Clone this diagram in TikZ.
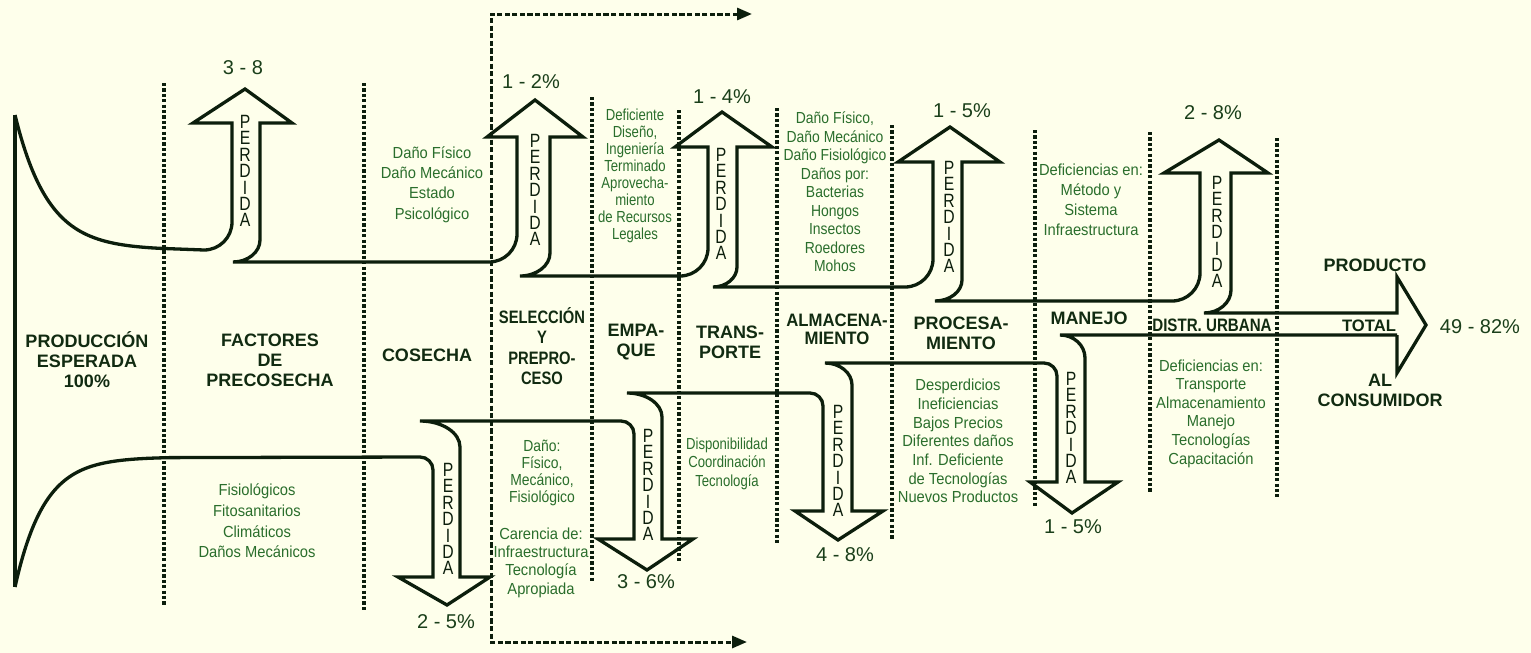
\documentclass[tikz,border=0pt]{standalone}
\usepackage{fontspec}
\setmainfont{Liberation Sans}
\newfontfamily\gfA[FakeStretch=0.92]{Liberation Sans}
\newfontfamily\gfB[FakeStretch=0.87]{Liberation Sans}
\newfontfamily\gfC[FakeStretch=0.82]{Liberation Sans}
\newfontfamily\hdC[FakeStretch=0.82]{Liberation Sans}
\newfontfamily\hdD[FakeStretch=0.93]{Liberation Sans}
\newfontfamily\hdE[FakeStretch=0.84]{Liberation Sans}
\newfontfamily\pfont[FakeStretch=0.82]{Liberation Sans}
\usetikzlibrary{arrows.meta}
\definecolor{bg}{HTML}{FEFFEB}
\definecolor{ink}{HTML}{0C1E0C}
\definecolor{hdcol}{HTML}{112B11}
\definecolor{grn}{HTML}{2A6E2C}
\definecolor{pctcol}{HTML}{1A3F1A}
\begin{document}
\begin{tikzpicture}[x=0.5pt,y=-0.5pt,
  flow/.style={draw=ink, line width=1.65pt, line join=miter},
  divider/.style={draw=ink, line width=1.6pt, dash pattern=on 1.6pt off 1.1pt},
  dashlink/.style={draw=ink, line width=1.5pt, dash pattern=on 2.6pt off 1.2pt},
  hdr/.style={text=hdcol, font=\fontsize{9}{10}\selectfont\bfseries, align=center, inner sep=0pt},
  note/.style={text=grn, align=center, inner sep=0pt},
  pct/.style={text=pctcol, font=\fontsize{10}{12}\selectfont, inner sep=0pt},
  perd/.style={text=ink, font=\pfont\fontsize{9.6}{8.2}\selectfont, align=center, inner sep=0pt}]
\fill[bg] (0,0) rectangle (1531,653);
\useasboundingbox (0,0) rectangle (1531,653);

% dividers
\foreach \xx/\ya/\yb in {164/83/605, 364/83/612, 592/97/581, 679/110/563, 777/108/544, 892/125/540, 1035/130/507, 1150/132/493, 1277/138/497}
  \draw[divider] (\xx,\ya) -- (\xx,\yb);

% dashed bracket
\coordinate (dA) at (752,14);
\coordinate (dB) at (491,14);
\coordinate (dC) at (491,642);
\coordinate (dD) at (747,642);
\draw[dashlink, {Triangle[length=7.5pt,width=6pt]}-{Triangle[length=7.5pt,width=6pt]}] (dA) -- (dB) -- (dC) -- (dD);

% left edge
\coordinate (lt) at (15,115);
\coordinate (lb) at (15,587);
\draw[flow] (lt) -- (lb);

% upper boundary with loss arrows
\draw[flow] plot[domain=15:160, samples=60, smooth] (\x,{250-135*exp(-(\x-15)/33)})
  -- (204,250) .. controls (219.5,250) and (232,237.5) .. (232,222)
  -- (232,123) -- (193,123) -- (245,89) -- (292,123) -- (260,123)
  -- (260,240) .. controls (260,252.1) and (247.9,262) .. (233,262)
  -- (489,262) .. controls (504.5,262) and (517,249.5) .. (517,234)
  -- (517,137) -- (487,137) -- (535,100) -- (583,137) -- (550,137)
  -- (550,253) .. controls (550,265.7) and (536.6,276) .. (520,276)
  -- (680,276) .. controls (695.5,276) and (708,263.5) .. (708,248)
  -- (708,147) -- (675,147) -- (722,112) -- (772,147) -- (737,147)
  -- (737,267) .. controls (737,278) and (726.2,287) .. (713,287)
  -- (905,287) .. controls (920.5,287) and (933,274.5) .. (933,259)
  -- (933,162) -- (898,162) -- (950,127) -- (1000,162) -- (962,162)
  -- (962,280) .. controls (962,291.6) and (949.9,301) .. (935,301)
  -- (1172,301) .. controls (1187.5,301) and (1200,288.5) .. (1200,273)
  -- (1200,173) -- (1164,173) -- (1219,140) -- (1268,173) -- (1231,173)
  -- (1231,290) .. controls (1231,302.7) and (1218.9,313) .. (1204,313)
  -- (1397,313) -- (1397,277) -- (1426,325) -- (1397,373) -- (1397,335);

% lower boundary with loss arrows
\draw[flow] plot[domain=15:170, samples=60, smooth] (\x,{457+130*exp(-(\x-15)/29)})
  -- (420,457) .. controls (427.2,457) and (433,462.8) .. (433,470)
  -- (433,577) -- (398,577) -- (447,605) -- (490,577) -- (460,577)
  -- (460,447) .. controls (460,432.6) and (442.1,421) .. (420,421)
  -- (621,421) .. controls (628.2,421) and (634,426.8) .. (634,434)
  -- (634,539) -- (598,539) -- (647,570) -- (693,539) -- (662,539)
  -- (662,417) .. controls (662,403.8) and (646.3,393) .. (627,393)
  -- (810,393) .. controls (817.2,393) and (823,398.8) .. (823,406)
  -- (823,511) -- (795,511) -- (838,540) -- (883,511) -- (852,511)
  -- (852,385) .. controls (852,372.9) and (839.9,363) .. (825,363)
  -- (1044,363) .. controls (1051.2,363) and (1057,368.8) .. (1057,376)
  -- (1057,482) -- (1030,482) -- (1072,513) -- (1118,482) -- (1085,482)
  -- (1085,358) .. controls (1085,345.3) and (1073.8,335) .. (1060,335)
  -- (1397,335);

% PERDIDA labels
\foreach \px/\py [count=\i] in {245/171, 535/190, 721/204, 949/217, 1217/232, 448/519, 648/485, 838/461, 1071/428}
  \node[perd] (perd\i) at (\px,\py) {P\\E\\R\\D\\I\\D\\A};

% percentages
\node[pct] (l1) at (243,68) {3 - 8};
\node[pct] (l2) at (531,82) {1 - 2\%};
\node[pct] (l3) at (722,97) {1 - 4\%};
\node[pct] (l4) at (962,111) {1 - 5\%};
\node[pct] (l5) at (1213,113) {2 - 8\%};
\node[pct] (l6) at (446,622) {2 - 5\%};
\node[pct] (l7) at (646,582) {3 - 6\%};
\node[pct] (l8) at (845,555) {4 - 8\%};
\node[pct] (l9) at (1073,527) {1 - 5\%};
\node[pct] (l10) at (1480,327) {49 - 82\%};

% headers
\node[hdr] (h1) at (87,360) {PRODUCCIÓN\\ESPERADA\\100\%};
\node[hdr] (h2) at (270,360) {FACTORES\\DE\\PRECOSECHA};
\node[hdr] (h3) at (427,355) {COSECHA};
\node[hdr, font=\hdC\fontsize{9}{10.15}\selectfont\bfseries] (h4) at (542,346) {SELECCIÓN\\Y\\PREPRO-\\CESO};
\node[hdr] (h5) at (636,342) {EMPA-\\QUE};
\node[hdr] (h6) at (730,342) {TRANS-\\PORTE};
\node[hdr, font=\hdD\fontsize{9}{9}\selectfont\bfseries] (h7) at (837,329) {ALMACENA-\\MIENTO};
\node[hdr] (h8) at (961,333) {PROCESA-\\MIENTO};
\node[hdr] (h9) at (1089,318) {MANEJO};
\node[hdr, font=\hdE\fontsize{9}{10}\selectfont\bfseries] (h10) at (1212,325) {DISTR. URBANA};
\node[hdr] (p1) at (1375,265) {PRODUCTO};
\node[hdr, font=\fontsize{8.3}{10}\selectfont\bfseries] (p2) at (1369,326) {TOTAL};
\node[hdr] (p3) at (1380,380) {AL};
\node[hdr] (p4) at (1380,400) {CONSUMIDOR};

% green notes
\node[note, font=\gfA\fontsize{8}{10.15}\selectfont] (g1) at (432,184.5) {Daño Físico\\Daño Mecánico\\Estado\\Psicológico};
\node[note, font=\gfA\fontsize{8}{10.35}\selectfont] (g2) at (257,521) {Fisiológicos\\Fitosanitarios\\Climáticos\\Daños Mecánicos};
\node[note, font=\gfC\fontsize{8}{8.45}\selectfont] (g3) at (635,176) {Deficiente\\Diseño,\\Ingeniería\\Terminado\\Aprovecha-\\miento\\de Recursos\\Legales};
\node[note, font=\gfB\fontsize{8}{9.25}\selectfont] (g4) at (835,192) {Daño Físico,\\Daño Mecánico\\Daño Fisiológico\\Daños por:\\Bacterias\\Hongos\\Insectos\\Roedores\\Mohos};
\node[note, font=\gfA\fontsize{8}{10}\selectfont] (g5) at (1091,200) {Deficiencias en:\\Método y\\Sistema\\Infraestructura};
\node[note, font=\gfB\fontsize{8}{8.5}\selectfont] (g6) at (542,472.5) {Daño:\\Físico,\\Mecánico,\\Fisiológico};
\node[note, font=\gfA\fontsize{8}{9.15}\selectfont] (g7) at (541,562.5) {Carencia de:\\Infraestructura\\Tecnología\\Apropiada};
\node[note, font=\gfC\fontsize{8}{9.25}\selectfont] (g8) at (727,463.5) {Disponibilidad\\Coordinación\\Tecnología};
\node[note, font=\gfA\fontsize{8}{9.35}\selectfont] (g9) at (958,441) {Desperdicios\\Ineficiencias\\Bajos Precios\\Diferentes daños\\Inf. Deficiente\\de Tecnologías\\Nuevos Productos};
\node[note, font=\gfA\fontsize{8}{9.3}\selectfont] (g10) at (1211,413.5) {Deficiencias en:\\Transporte\\Almacenamiento\\Manejo\\Tecnologías\\Capacitación};
\end{tikzpicture}
\end{document}
